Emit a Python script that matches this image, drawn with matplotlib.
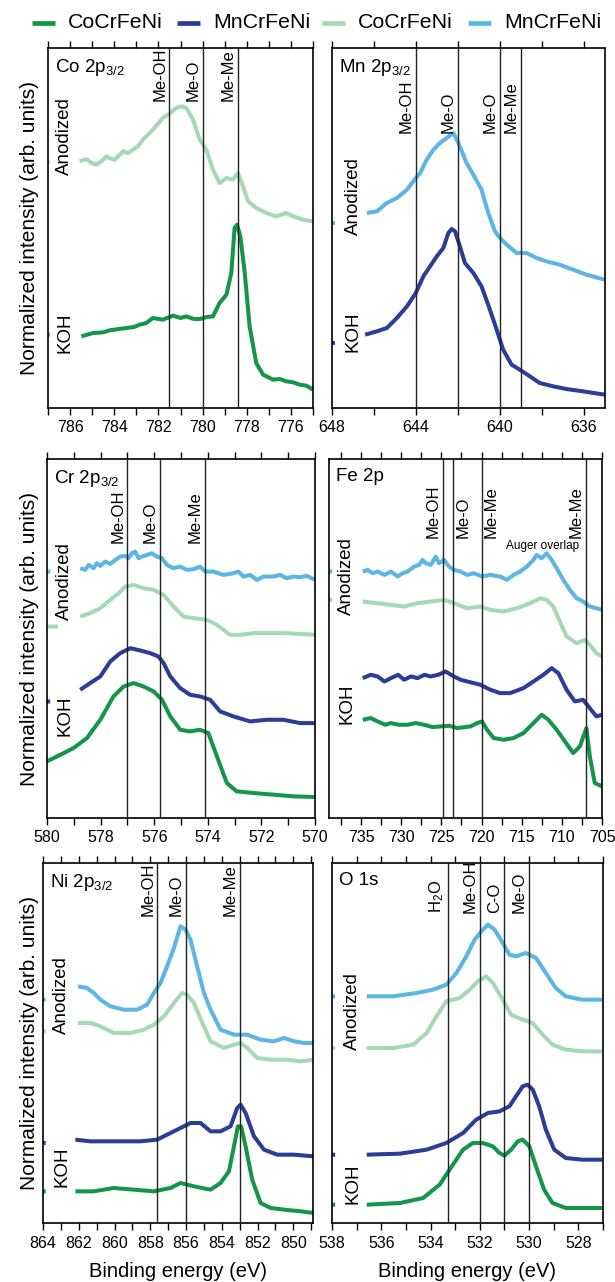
import numpy as np
import matplotlib
matplotlib.use('Agg')
import matplotlib.pyplot as plt
from matplotlib.ticker import MultipleLocator
from matplotlib.lines import Line2D

plt.rcParams['font.family'] = ['Liberation Sans', 'DejaVu Sans']
plt.rcParams['mathtext.fontset'] = 'custom'
plt.rcParams['mathtext.rm'] = 'Liberation Sans'
plt.rcParams['mathtext.it'] = 'Liberation Sans:italic'
plt.rcParams['mathtext.bf'] = 'Liberation Sans:bold'

nan = np.nan

# ---------------- legend ----------------
legend_labels = ['CoCrFeNi', 'MnCrFeNi', 'CoCrFeNi', 'MnCrFeNi']

# ---------------- Co 2p3/2 ----------------
co_lines = [781.5, 780.0, 778.4]
co_labels = ['Me-OH', 'Me-O', 'Me-Me']
co_sides = ['l', 'l', 'l']
co_E_anod_cocr = [787.0, 786.93, nan, 785.57, 785.26, 785.03, 784.8, 784.5, 784.36, 784.13, 783.98, 783.75,
                  783.6, 783.38, 783.15, 782.93, 782.7, 782.25,
                  781.8, 781.5, 781.2, 780.96, 780.74, 780.43, 780.13, 779.83, 779.53, 779.23, 778.92,
                  778.62, 778.4, 778.17, 777.94, 777.57, 777.11, 776.66, 776.21, 775.9, 775.45, 775.0]
co_I_anod_cocr = [732, 732, nan, 735, 742, 730, 725, 740, 750, 742, 740, 755,
                  765, 760, 770, 780, 800, 830,
                  865, 878, 895, 900, 895, 860, 800, 770, 710, 670, 685,
                  680, 700, 660, 615, 595, 580, 570, 580, 570, 560, 555]
co_E_koh_cocr = [787.0, 786.93, nan, 785.49, 784.96, 784.5, 784.21, 783.8, 783.45, 783.1, 782.85, 782.55,
                 782.25, 781.8, 781.34, 781.0, 780.74, 780.4,
                 780.13, 779.8, 779.53, 779.23, 778.92, 778.7, 778.55, 778.44, 778.29, 778.09, 777.87, 777.57,
                 777.26, 776.81, 776.5, 776.21, 775.9, 775.6, 775.3, 775.0]
co_I_koh_cocr = [215, 215, nan, 210, 220, 222, 228, 232, 235, 238, 245, 250,
                 265, 260, 272, 265, 270, 262,
                 262, 268, 270, 310, 335, 400, 535, 545, 510, 400, 240, 130,
                 95, 80, 82, 75, 72, 65, 62, 50]

# ---------------- Mn 2p3/2 ----------------
mn_lines = [644.0, 642.0, 640.0, 639.0]
mn_labels = ['Me-OH', 'Me-O', 'Me-O', 'Me-Me']
mn_sides = ['l', 'l', 'l', 'l']
mn_E_anod_mncr = [648.0, 647.86, nan, 646.34, 645.86, 645.39, 644.91, 644.43, 644.01, 643.8, 643.49, 643.17,
                  642.86, 642.54, 642.22, 641.98, 641.59, 641.27, 640.88, 640.56, 640.24, 640.0, 639.68,
                  639.21, 638.74, 638.26, 637.79, 637.16, 636.52, 635.89, 635.02]
mn_I_anod_mncr = [550, 550, nan, 580, 585, 610, 625, 650, 685, 700, 740, 770,
                  790, 805, 820, 790, 730, 695, 650, 580, 525, 505, 485,
                  460, 460, 445, 435, 425, 410, 395, 380]
mn_E_koh_mncr = [648.0, 647.86, nan, 646.42, 645.86, 645.39, 644.91, 644.43, 644.01, 643.65, 643.33, 643.01,
                 642.7, 642.46, 642.3, 642.14, 641.91, 641.67, 641.27, 640.88, 640.48, 640.16, 639.85,
                 639.45, 639.06, 638.58, 638.11, 637.47, 636.84, 636.05, 635.02]
mn_I_koh_mncr = [190, 190, nan, 215, 225, 235, 265, 300, 340, 390, 420, 450,
                 475, 520, 532, 525, 480, 430, 400, 360, 290, 230, 170,
                 125, 110, 90, 70, 60, 52, 45, 35]

# ---------------- Cr 2p3/2 ----------------
cr_lines = [577.0, 575.8, 574.1]
cr_labels = ['Me-OH', 'Me-O', 'Me-Me']
cr_sides = ['l', 'l', 'l']
cr_E_anod_mncr = [580.0, 579.88, nan, 578.76, 578.57, 578.45, 578.26, 578.14, 578.01, 577.83, 577.64, 577.45,
                  577.27, 577.08, 576.96, 576.83, 576.71, 576.58, 576.46, 576.27, 576.09, 575.9, 575.71,
                  575.53, 575.28, 575.03, 574.78, 574.53, 574.29, 574.1, 573.79, 573.42, 573.04, 572.86,
                  572.67, 572.42, 572.17, 571.93, 571.55, 571.3, 571.06, 570.81, 570.56, 570.31, 570.12, 570.0]
cr_I_anod_mncr = [705, 705, nan, 715, 710, 725, 715, 730, 722, 735, 728, 740,
                  750, 752, 745, 760, 765, 745, 750, 755, 760, 750, 745,
                  725, 715, 720, 710, 712, 720, 705, 705, 695, 700, 705,
                  690, 695, 680, 690, 690, 695, 685, 690, 688, 692, 685, 680]
cr_E_anod_cocr = [580.0, 579.6, nan, 578.76, 578.39, 578.01, 577.64, 577.33, 577.08, 576.77, 576.4, 576.02,
                  575.65, 575.28, 574.91, 574.53, 574.04, 573.66, 573.17, 572.8, 572.3, 571.8, 571.06, 570.0]
cr_I_anod_cocr = [540, 540, nan, 570, 580, 595, 620, 640, 660, 665, 655, 650,
                  635, 600, 570, 565, 560, 545, 515, 515, 520, 520, 520, 515]
cr_E_koh_mncr = [580.0, 579.88, nan, 578.76, 578.39, 578.01, 577.64, 577.27, 576.89, 576.52, 576.15, 575.84,
                 575.65, 575.4, 575.03, 574.66, 574.29, 573.91, 573.54, 573.04, 572.42, 571.8, 571.18,
                 570.56, 570.0]
cr_I_koh_mncr = [315, 315, nan, 350, 370, 390, 435, 460, 475, 468, 460, 450,
                 430, 390, 355, 335, 330, 320, 285, 270, 255, 260, 260,
                 250, 250]
cr_E_koh_cocr = [580.0, 579.5, 579.01, 578.51, 578.01, 577.52, 577.14, 576.77, 576.4, 576.02, 575.71,
                 575.4, 575.03, 574.66, 574.29, 573.98, 573.66, 573.29, 572.92, 572.3, 571.55, 570.81, 570.0]
cr_I_koh_cocr = [135, 155, 175, 205, 260, 330, 360, 370, 360, 345, 320,
                 270, 230, 225, 230, 220, 150, 70, 45, 40, 35, 30, 28]

# ---------------- Fe 2p ----------------
fe_lines = [724.8, 723.5, 720.0, 707.0]
fe_labels = ['Me-OH', 'Me-O', 'Me-Me', 'Me-Me']
fe_sides = ['l', 'r', 'r', 'l']
fe_E_anod_mncr = [739.0, 738.6, nan, 734.79, 734.17, 733.56, 732.94, 732.11, 731.29, 730.46, 729.84, 729.22,
                  728.4, 727.78, 727.36, 726.95, 726.33, 725.71, 725.3, 724.68, 724.06, 723.44, 722.62,
                  721.79, 720.97, 719.94, 718.9, 717.67, 716.84, 716.02, 715.19, 714.37, 713.54, 713.13,
                  712.51, 711.89, 711.27, 710.65, 709.82, 709.0, 708.17, 707.35, 706.52, 705.7, 705.0]
fe_I_anod_mncr = [705, 705, nan, 705, 710, 700, 705, 695, 705, 690, 700, 705,
                  720, 725, 740, 730, 725, 750, 730, 740, 720, 710, 705,
                  695, 700, 690, 695, 690, 680, 695, 705, 720, 740, 755,
                  745, 760, 740, 715, 680, 650, 625, 615, 600, 595, 590]
fe_E_anod_cocr = [739.0, 738.6, nan, 734.8, 732.94, 731.29, 729.63, 727.98, 726.33, 724.68, 723.44, 721.79,
                  720.14, 718.9, 717.25, 715.6, 713.95, 712.71, 711.89, 711.06, 710.24, 709.41, 708.17,
                  707.14, 706.52, 705.7, 705.0]
fe_I_anod_cocr = [620, 620, nan, 615, 610, 605, 600, 610, 615, 620, 610, 595,
                  600, 590, 585, 595, 610, 625, 620, 600, 555, 510, 490,
                  500, 485, 460, 450]
fe_E_koh_mncr = [734.8, 733.8, 732.94, 732.1, 731.29, 730.4, 729.63, 728.8, 727.98, 727.1, 726.33, 725.4,
                 724.48, 723.44, 722.6, 721.79, 720.14, 718.9,
                 717.67, 716.43, 714.78, 713.54, 712.3, 711.27, 710.44, 709.41, 708.38, 707.35, 706.52,
                 705.7, 705.0]
fe_I_koh_mncr = [385, 395, 390, 375, 385, 395, 380, 390, 385, 395, 390, 395,
                 405, 390, 380, 375, 365, 350,
                 340, 340, 355, 375, 395, 415, 400, 350, 315, 320, 295,
                 270, 275]
fe_E_koh_cocr = [734.8, 733.8, 732.94, 732.0, 731.29, 730.3, 729.22, 728.2, 727.16, 726.1, 725.1, 724.0,
                 723.03, 721.38, 720.56, 719.94, 719.32,
                 718.49, 717.25, 716.02, 714.78, 713.54, 712.51, 711.68, 710.65, 709.62, 708.59, 707.76,
                 706.94, 706.52, 705.9, 705.0]
fe_I_koh_cocr = [260, 265, 255, 245, 250, 245, 245, 250, 245, 238, 240, 242,
                 235, 240, 250, 255, 230,
                 205, 200, 205, 220, 250, 275, 260, 230, 195, 160, 180,
                 235, 150, 70, 60]

# ---------------- Ni 2p3/2 ----------------
ni_lines = [857.6, 856.0, 853.0]
ni_labels = ['Me-OH', 'Me-O', 'Me-Me']
ni_sides = ['l', 'l', 'l']
ni_E_anod_mncr = [864.0, 863.85, nan, 862.04, 861.54, 861.16, 860.79, 860.23, 859.48, 858.74, 858.18, 857.8,
                  857.43, 857.06, 856.68, 856.31, 856.03, 855.75, 855.38, 855.0, 854.63, 854.07, 853.32,
                  852.58, 851.83, 851.08, 850.52, 849.96, 849.4, 848.88]
ni_I_anod_mncr = [680, 680, nan, 720, 715, 700, 680, 660, 650, 650, 665, 700,
                  730, 780, 835, 900, 890, 860, 780, 700, 650, 590, 575,
                  575, 560, 555, 565, 555, 550, 550]
ni_E_anod_cocr = [864.0, 863.85, nan, 862.04, 861.35, 860.79, 860.04, 859.11, 858.36, 857.8, 857.24, 856.68,
                  856.22, 855.94, 855.56, 855.0, 854.63, 853.88, 853.32, 852.95, 852.58, 852.02, 851.27,
                  850.34, 849.59, 848.88]
ni_I_anod_cocr = [585, 585, nan, 610, 610, 600, 580, 580, 590, 605, 630, 670,
                  700, 695, 670, 600, 555, 535, 545, 550, 535, 505, 500,
                  500, 495, 500]
ni_E_koh_mncr = [864.0, 863.85, nan, 862.19, 861.35, 860.42, 859.48, 858.55, 857.62, 856.87, 856.31, 855.75,
                 855.19, 854.63, 854.07, 853.51, 853.14, 852.95, 852.67, 852.2, 851.64, 850.9, 849.96, 848.88]
ni_I_koh_mncr = [250, 250, nan, 260, 255, 255, 255, 255, 260, 280, 295, 310,
                 310, 285, 285, 300, 355, 365, 340, 270, 230, 215, 215, 210]
ni_E_koh_cocr = [864.0, 863.85, nan, 862.19, 861.16, 860.04, 858.92, 857.8, 856.87, 856.31, 855.56, 854.63,
                 854.07, 853.6, 853.32, 853.1, 852.92, 852.67, 852.3, 851.83, 851.27, 850.52, 849.59, 848.88]
ni_I_koh_cocr = [105, 105, nan, 105, 105, 115, 110, 105, 115, 130, 120, 110,
                 130, 165, 240, 300, 300, 240, 140, 70, 55, 50, 45, 40]

# ---------------- O 1s ----------------
o_lines = [533.3, 532.0, 531.0, 530.0]
o_labels = ['H$_2$O', 'Me-OH', 'C-O', 'Me-O']
o_sides = ['l', 'l', 'l', 'l']
o_E_anod_mncr = [538.0, 537.87, nan, 536.59, 535.51, 534.57, 533.9, 533.36, 532.95, 532.55, 532.21, 531.94,
                 531.67, 531.4, 531.07, 530.8, 530.53, 530.13, 529.72, 529.32, 528.92, 528.51, 527.84, 527.03]
o_I_anod_mncr = [690, 690, nan, 690, 690, 700, 710, 725, 760, 810, 860, 885,
                 905, 890, 850, 815, 810, 820, 805, 760, 715, 690, 680, 680]
o_E_anod_cocr = [538.0, 537.87, nan, 536.59, 535.51, 534.7, 534.16, 533.76, 533.36, 532.82, 532.41, 532.08,
                 531.74, 531.47, 531.07, 530.73, 530.26, 529.86, 529.45, 529.05, 528.51, 527.84, 527.03]
o_I_anod_cocr = [535, 535, nan, 535, 535, 545, 580, 630, 675, 685, 710, 735,
                 750, 730, 680, 635, 620, 610, 575, 545, 530, 525, 525]
o_E_koh_mncr = [538.0, 537.87, nan, 536.59, 535.24, 534.16, 533.36, 532.68, 532.15, 531.67, 531.2, 530.8,
                530.53, 530.26, 530.06, 529.85, 529.59, 529.32, 528.98, 528.51, 527.84, 527.03]
o_I_koh_mncr = [215, 215, nan, 215, 218, 230, 250, 280, 320, 340, 345, 360,
                390, 420, 425, 410, 360, 290, 230, 205, 200, 200]
o_E_koh_cocr = [538.0, 537.87, nan, 536.59, 535.24, 534.3, 533.63, 533.09, 532.68, 532.28, 531.88, 531.47,
                531.2, 531.0, 530.73, 530.46, 530.26, 529.99, 529.72, 529.39, 529.05, 528.51, 527.84, 527.03]
o_I_koh_cocr = [65, 65, nan, 65, 70, 85, 125, 185, 230, 250, 250, 240,
                220, 212, 230, 255, 260, 240, 180, 110, 70, 55, 55, 55]

# ---------------- styling ----------------
DG = '#15954a'   # CoCrFeNi KOH
DB = '#2b3d96'   # MnCrFeNi KOH
LG = '#a5d9b6'   # CoCrFeNi anodized
LB = '#5cb5e5'   # MnCrFeNi anodized
LW = 2.9

W, H = 615, 1282
fig = plt.figure(figsize=(W / 100, H / 100), dpi=100)


def add_ax(x0, x1, y0, y1):
    return fig.add_axes([x0 / W, 1 - y1 / H, (x1 - x0) / W, (y1 - y0) / H])


panels = [
    dict(pos=(48, 313, 48, 408), xlim=(787, 775), maj=2, mnr=1, ylim=(-5, 1075),
         title='Co 2p$_{3/2}$',
         curves=[(co_E_anod_cocr, co_I_anod_cocr, LG), (co_E_koh_cocr, co_I_koh_cocr, DG)],
         lines=co_lines, labels=co_labels, sides=co_sides, ly=0.854, anod=(0.063, 0.756), koh=(0.063, 0.21),
         left=True, bottom=False),
    dict(pos=(332, 605, 48, 408), xlim=(648, 635), maj=4, mnr=2, ylim=(-5, 1075),
         title='Mn 2p$_{3/2}$',
         curves=[(mn_E_anod_mncr, mn_I_anod_mncr, LB), (mn_E_koh_mncr, mn_I_koh_mncr, DB)],
         lines=mn_lines, labels=mn_labels, sides=mn_sides, ly=0.764, anod=(0.077, 0.59), koh=(0.077, 0.213),
         left=False, bottom=False),
    dict(pos=(47, 315, 459, 818), xlim=(580, 570), maj=2, mnr=1, ylim=(-35, 1043),
         title='Cr 2p$_{3/2}$',
         curves=[(cr_E_anod_mncr, cr_I_anod_mncr, LB), (cr_E_anod_cocr, cr_I_anod_cocr, LG),
                 (cr_E_koh_mncr, cr_I_koh_mncr, DB), (cr_E_koh_cocr, cr_I_koh_cocr, DG)],
         lines=cr_lines, labels=cr_labels, sides=cr_sides, ly=0.765, anod=(0.067, 0.661), koh=(0.067, 0.285),
         left=True, bottom=False),
    dict(pos=(329, 602, 459, 818), xlim=(739, 705), maj=5, mnr=2.5, ylim=(-35, 1043),
         title='Fe 2p',
         curves=[(fe_E_anod_mncr, fe_I_anod_mncr, LB), (fe_E_anod_cocr, fe_I_anod_cocr, LG),
                 (fe_E_koh_mncr, fe_I_koh_mncr, DB), (fe_E_koh_cocr, fe_I_koh_cocr, DG)],
         lines=fe_lines, labels=fe_labels, sides=fe_sides, ly=0.779, anod=(0.065, 0.675), koh=(0.065, 0.318),
         left=False, bottom=False),
    dict(pos=(43, 313, 863, 1223), xlim=(864, 848.9), maj=2, mnr=1, ylim=(10, 1090),
         title='Ni 2p$_{3/2}$',
         curves=[(ni_E_anod_mncr, ni_I_anod_mncr, LB), (ni_E_anod_cocr, ni_I_anod_cocr, LG),
                 (ni_E_koh_mncr, ni_I_koh_mncr, DB), (ni_E_koh_cocr, ni_I_koh_cocr, DG)],
         lines=ni_lines, labels=ni_labels, sides=ni_sides, ly=0.852, anod=(0.069, 0.634), koh=(0.069, 0.157),
         left=True, bottom=True),
    dict(pos=(332, 603, 863, 1223), xlim=(538, 527), maj=2, mnr=1, ylim=(10, 1090),
         title='O 1s',
         curves=[(o_E_anod_mncr, o_I_anod_mncr, LB), (o_E_anod_cocr, o_I_anod_cocr, LG),
                 (o_E_koh_mncr, o_I_koh_mncr, DB), (o_E_koh_cocr, o_I_koh_cocr, DG)],
         lines=o_lines, labels=o_labels, sides=o_sides, ly=0.86, anod=(0.077, 0.588), koh=(0.077, 0.11),
         left=False, bottom=True),
]

for p in panels:
    ax = add_ax(*p['pos'])
    for E, I, c in p['curves']:
        ax.plot(E, I, color=c, lw=LW, solid_capstyle='butt', solid_joinstyle='round')
    for xv, lab, side in zip(p['lines'], p['labels'], p['sides']):
        ax.axvline(xv, color='#222222', lw=1.0, zorder=3)
        if side == 'l':
            ax.annotate(lab, xy=(xv, p['ly']), xycoords=('data', 'axes fraction'),
                        xytext=(-1.5, 0), textcoords='offset points', rotation=90,
                        ha='right', va='bottom', fontsize=12)
        else:
            ax.annotate(lab, xy=(xv, p['ly']), xycoords=('data', 'axes fraction'),
                        xytext=(1.5, 0), textcoords='offset points', rotation=90,
                        ha='left', va='bottom', fontsize=12)
    ax.set_xlim(*p['xlim'])
    ax.set_ylim(*p['ylim'])
    ax.xaxis.set_major_locator(MultipleLocator(p['maj']))
    ax.xaxis.set_minor_locator(MultipleLocator(p['mnr']))
    ax.tick_params(axis='x', which='both', direction='out', top=True, bottom=True,
                   length=5, width=1.0, labelsize=11.5, pad=4)
    ax.tick_params(axis='y', which='both', left=False, right=False, labelleft=False)
    for s in ax.spines.values():
        s.set_linewidth(1.2)
    ax.text(0.025, 0.975, p['title'], transform=ax.transAxes, ha='left', va='top', fontsize=13.5)
    ax.text(p['anod'][0], p['anod'][1], 'Anodized', transform=ax.transAxes, rotation=90,
            ha='center', va='center', fontsize=13.5)
    ax.text(p['koh'][0], p['koh'][1], 'KOH', transform=ax.transAxes, rotation=90,
            ha='center', va='center', fontsize=13.5)
    if p['title'] == 'Fe 2p':
        ax.text(712.45, 0.759, 'Auger overlap', transform=ax.get_xaxis_transform(),
                ha='center', va='center', fontsize=8.5)
    if p['left']:
        x0, x1, y0, y1 = p['pos']
        fig.text(30 / W, 1 - (y0 + y1) / 2 / H, 'Normalized intensity (arb. units)',
                 rotation=90, ha='center', va='center', fontsize=15)
    if p['bottom']:
        ax.set_xlabel('Binding energy (eV)', fontsize=14.5)
        ax.xaxis.set_label_coords(0.5, -0.108)

# legend entries placed on one row across the top
leg_colors = [DG, DB, LG, LB]
leg_handle_x = [32, 177, 322, 468]
leg_y = 1 - 23 / H
for hx, c, lab in zip(leg_handle_x, leg_colors, legend_labels):
    fig.add_artist(Line2D([hx / W, (hx + 23) / W], [leg_y, leg_y], color=c, lw=3.4,
                          transform=fig.transFigure, solid_capstyle='butt'))
    fig.text((hx + 36) / W, leg_y, lab, ha='left', va='center', fontsize=15.4)

fig.savefig('out.png', dpi=100)
